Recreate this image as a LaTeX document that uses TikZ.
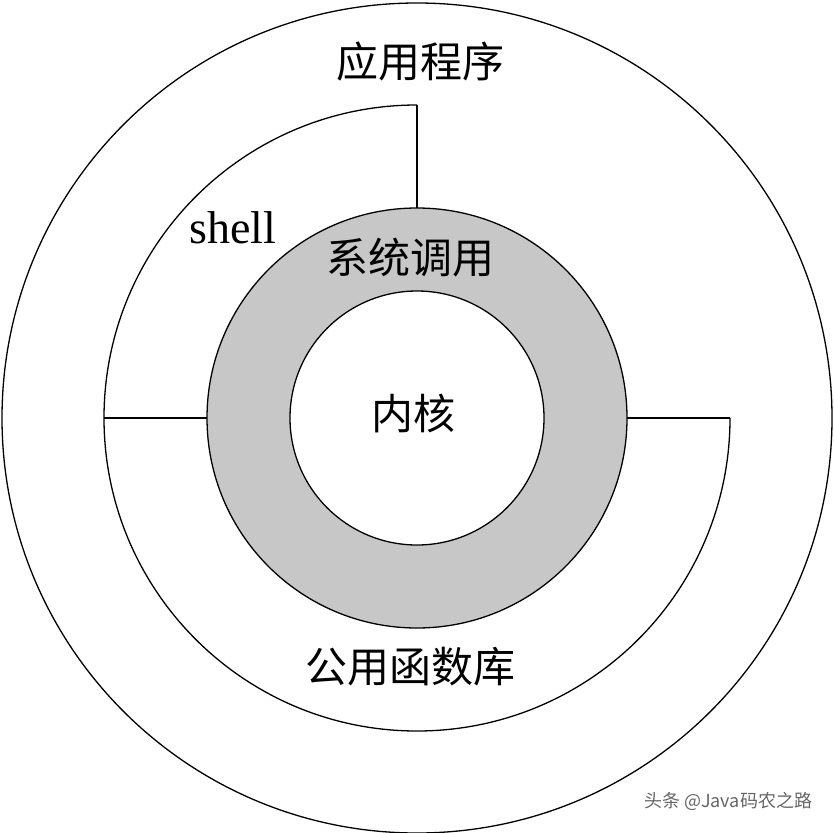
\documentclass[tikz,border=0pt]{standalone}
\usepackage{fontspec}
\newfontfamily\cjk{Noto Sans CJK SC}
\setmainfont{Liberation Serif}
\begin{document}
\begin{tikzpicture}[x=1pt,y=-1pt,line width=1.3pt,
  lbl/.style={font=\cjk\fontsize{42}{46}\selectfont}]
\useasboundingbox (0,0) rectangle (834,832);
\coordinate (c) at (417,418);
\draw (c) circle[radius=415pt];
\fill[black!22] (c) circle[radius=210pt];
\draw (c) circle[radius=210pt];
\fill[white] (c) circle[radius=127pt];
\draw (c) circle[radius=127pt];
% middle arc (missing top-right quadrant)
\draw (417,105) arc[start angle=90,end angle=360,radius=313pt];
\coordinate (t1) at (417,105); \coordinate (t2) at (417,208);
\draw (t1) -- (t2);
\coordinate (l1) at (104,418); \coordinate (l2) at (207,418);
\draw (l1) -- (l2);
\coordinate (r1) at (730,418); \coordinate (r2) at (627,418);
\draw (r1) -- (r2);
\node[lbl] (app) at (420,62) {应用程序};
\node[font=\fontsize{46}{50}\selectfont] (sh) at (233,228) {shell};
\node[lbl] (sys) at (410,258) {系统调用};
\node[lbl] (ker) at (413,413) {内核};
\node[lbl] (lib) at (410,667) {公用函数库};
\node[font=\cjk\fontsize{18}{20}\selectfont,text=black!60] (wm) at (728,801) {头条 @Java码农之路};
\end{tikzpicture}
\end{document}
